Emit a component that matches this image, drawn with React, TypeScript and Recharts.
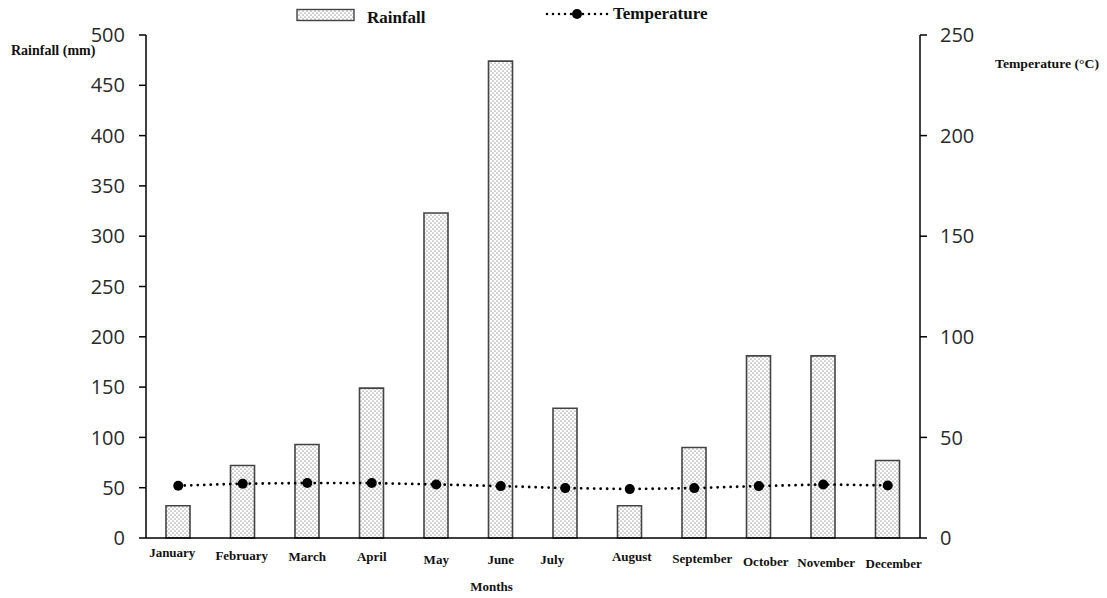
import React from "react";
import { ComposedChart, Bar, Line, XAxis, YAxis } from "recharts";

const months = ["January", "February", "March", "April", "May", "June", "July", "August", "September", "October", "November", "December"];
const rainfall = [32, 72, 93, 149, 323, 474, 129, 32, 90, 181, 181, 77];
const temperature = [26, 27, 27.3, 27.3, 26.6, 25.8, 24.8, 24.3, 24.8, 25.8, 26.6, 26.1];
const rainTicks = [0, 50, 100, 150, 200, 250, 300, 350, 400, 450, 500];
const tempTicks = [0, 50, 100, 150, 200, 250];

// label placement tweaks (styling only)
const labelDx = [-6, -1, 0, 0, 0, 0, -13, 2, 8, 7, 3, 6];
const labelDy = [19, 22, 23, 23, 26, 26, 26, 23, 25, 28, 29, 30];

const data = months.map((m, i) => ({ month: m, rainfall: rainfall[i], temperature: temperature[i] }));

const serif = "'Liberation Serif', 'Times New Roman', serif";
const sans = "'Open Sans', 'Noto Sans', sans-serif";

const MonthTick = (props: any) => {
  const { x, y, payload, index } = props;
  const i = typeof index === "number" ? index : months.indexOf(payload.value);
  return (
    <text
      x={x + (labelDx[i] || 0)}
      y={y + (labelDy[i] || 22)}
      textAnchor="middle"
      fontFamily={serif}
      fontWeight="bold"
      fontSize={13}
      fill="#111"
    >
      {payload.value}
    </text>
  );
};

export default function App() {
  const W = 1099;
  const H = 590;
  return (
    <div style={{ position: "relative", width: W, height: H }}>
      <ComposedChart
        width={W}
        height={H}
        data={data}
        margin={{ top: 27, right: 127, bottom: 20, left: 0 }}
      >
        <defs>
          <pattern id="stipple" width="4" height="4" patternUnits="userSpaceOnUse">
            <rect width="4" height="4" fill="#ffffff" />
            <circle cx="1" cy="1" r="0.6" fill="#444" />
            <circle cx="3" cy="3" r="0.6" fill="#444" />
          </pattern>
        </defs>
        <XAxis
          dataKey="month"
          height={40}
          tickLine={false}
          tickSize={0}
          tickMargin={0}
          axisLine={{ stroke: "#000", strokeWidth: 1.5 }}
          tick={MonthTick}
          interval={0}
        />
        <YAxis
          yAxisId="left"
          orientation="left"
          width={138}
          domain={[0, 500]}
          ticks={rainTicks}
          interval={0}
          tickSize={7}
          tickMargin={14}
          axisLine={{ stroke: "#000", strokeWidth: 1.5 }}
          tickLine={{ stroke: "#000", strokeWidth: 1.5 }}
          tick={{ fontFamily: sans, fontSize: 20, fill: "#2a2a2a" }}
        />
        <YAxis
          yAxisId="right"
          orientation="right"
          width={60}
          domain={[0, 250]}
          ticks={tempTicks}
          interval={0}
          tickSize={7}
          tickMargin={13}
          axisLine={{ stroke: "#000", strokeWidth: 1.5 }}
          tickLine={{ stroke: "#000", strokeWidth: 1.5 }}
          tick={{ fontFamily: sans, fontSize: 20, fill: "#2a2a2a" }}
        />
        <Bar
          yAxisId="left"
          dataKey="rainfall"
          barSize={24}
          fill="url(#stipple)"
          stroke="#444"
          strokeWidth={1.6}
          isAnimationActive={false}
        />
        <Line
          yAxisId="right"
          dataKey="temperature"
          type="linear"
          stroke="#000"
          strokeWidth={2.8}
          strokeDasharray="0 6.5"
          strokeLinecap="round"
          dot={{ r: 5, fill: "#000", stroke: "#000", strokeWidth: 0, strokeDasharray: "none" }}
          activeDot={false}
          isAnimationActive={false}
        />
      </ComposedChart>
      <svg
        width={1107}
        height={598}
        style={{ position: "absolute", left: -8, top: -8, pointerEvents: "none", overflow: "visible" }}
      >
        <rect x={297} y={9.5} width={57} height={11} fill="url(#stipple)" stroke="#444" strokeWidth={1.4} />
        <text x={367} y={23} fontFamily={serif} fontWeight="bold" fontSize={17} fill="#111">Rainfall</text>
        <line x1={547} y1={14} x2={610} y2={14} stroke="#000" strokeWidth={2.6} strokeDasharray="0 6" strokeLinecap="round" />
        <circle cx={577} cy={14} r={5} fill="#000" />
        <text x={613} y={19} fontFamily={serif} fontWeight="bold" fontSize={17} fill="#111">Temperature</text>
        <text x={11} y={55} fontFamily={serif} fontWeight="bold" fontSize={14} fill="#111">Rainfall (mm)</text>
        <text x={995} y={68} fontFamily={serif} fontWeight="bold" fontSize={13.5} fill="#111" textLength={104} lengthAdjust="spacingAndGlyphs">Temperature (°C)</text>
        <text x={491.5} y={591} textAnchor="middle" fontFamily={serif} fontWeight="bold" fontSize={13} fill="#111">Months</text>
      </svg>
    </div>
  );
}
